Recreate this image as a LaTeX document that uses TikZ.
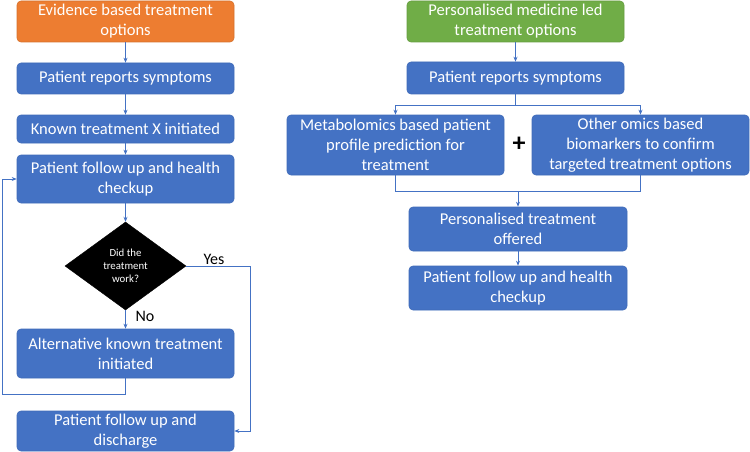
\documentclass[tikz,border=0pt]{standalone}
\usepackage{fontspec}
\setmainfont{Carlito}
\usetikzlibrary{shapes.geometric,arrows.meta}
\definecolor{boxblue}{HTML}{4472C4}
\definecolor{boxedge}{HTML}{3F6AB8}
\definecolor{orng}{HTML}{ED7D31}
\definecolor{grn}{HTML}{70AD47}
\definecolor{lineblue}{HTML}{4472C4}
\tikzset{
  stepbox/.style={draw=boxedge, fill=boxblue, line width=0.6pt, rounded corners=4pt,
    text=white, align=center, inner sep=0pt, font=\fontsize{16.5}{20}\selectfont},
  conn/.style={draw=lineblue, line width=0.7pt},
  arr/.style={conn, -{Stealth[length=5pt,width=4pt]}},
  lbl/.style={font=\fontsize{16}{18}\selectfont, text=black, inner sep=0pt}
}
\begin{document}
\begin{tikzpicture}[x=1pt,y=-1pt]
\useasboundingbox (0,0) rectangle (750,452);
% left column
\node[stepbox, fill=orng, draw=orng!90!black, minimum width=217pt, minimum height=41pt] (o1) at (125.5,21.5) {Evidence based treatment\\options};
\node[stepbox, minimum width=217pt, minimum height=31pt] (l2) at (125.5,78.5) {Patient reports symptoms};
\node[stepbox, minimum width=217pt, minimum height=28pt] (l3) at (125.5,129) {Known treatment X initiated};
\node[stepbox, minimum width=217pt, minimum height=48pt] (l4) at (125.5,179) {Patient follow up and health\\checkup};
\node[diamond, fill=black, draw=black, minimum width=121pt, minimum height=88pt, inner sep=0pt, text=white, align=center, font=\fontsize{10.8}{13}\selectfont] (dia) at (125.5,266) {Did the\\treatment\\work?};
\node[stepbox, minimum width=217pt, minimum height=49pt] (l5) at (125.5,353.5) {Alternative known treatment\\initiated};
\node[stepbox, minimum width=217pt, minimum height=40pt] (l6) at (125.5,431) {Patient follow up and\\discharge};
\draw[arr] (o1) -- (l2);
\draw[arr] (l2) -- (l3);
\draw[arr] (l3) -- (l4);
\draw[arr] (l4) -- (dia);
\draw[arr] (dia) -- (l5);
\coordinate (loopc) at (2,394);
\draw[arr] (l5.south) |- (loopc) |- (l4.west);
\coordinate (yesc) at (250,266);
\draw[arr] (dia.east) -- (yesc) |- (l6.east);
\node[lbl] (yes) at (214,259) {Yes};
\node[lbl] (no) at (145,316) {No};
% right column
\node[stepbox, fill=grn, draw=grn!90!black, minimum width=217pt, minimum height=41pt] (g1) at (515.5,21.5) {Personalised medicine led\\treatment options};
\node[stepbox, minimum width=217pt, minimum height=32pt] (r2) at (515.5,78) {Patient reports symptoms};
\node[stepbox, minimum width=217pt, minimum height=60pt] (r3a) at (395.5,145) {Metabolomics based patient\\profile prediction for\\treatment};
\node[stepbox, minimum width=217pt, minimum height=60pt] (r3b) at (640.5,145) {Other omics based\\biomarkers to confirm\\targeted treatment options};
\node[font=\fontsize{26}{26}\selectfont\bfseries, inner sep=0pt] (plus) at (519,144) {+};
\node[stepbox, minimum width=218pt, minimum height=44pt] (r4) at (518,229) {Personalised treatment\\offered};
\node[stepbox, minimum width=218pt, minimum height=44pt] (r5) at (518,288) {Patient follow up and health\\checkup};
\draw[arr] (g1) -- (r2);
\coordinate (sp) at (515.5,105);
\draw[arr] (r2.south) -- (sp) -| (r3a.north);
\draw[arr] (sp) -| (r3b.north);
\coordinate (mg) at (518,191);
\draw[conn] (r3a.south) |- (mg);
\draw[conn] (r3b.south) |- (mg);
\draw[arr] (mg) -- (r4.north);
\draw[arr] (r4) -- (r5);
\end{tikzpicture}
\end{document}
